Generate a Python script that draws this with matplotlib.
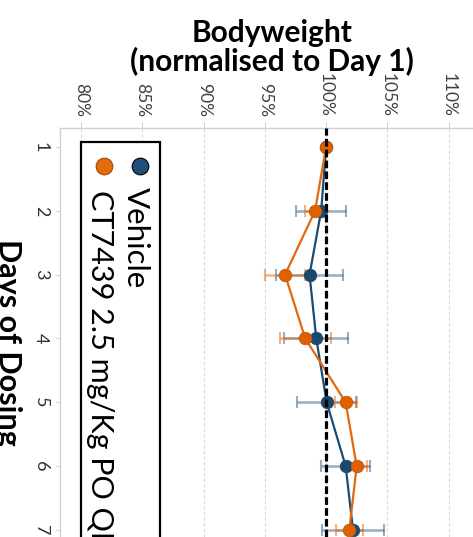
import matplotlib
matplotlib.use("Agg")
import matplotlib.pyplot as plt
from matplotlib.patches import Rectangle

plt.rcParams['font.family'] = ['Lato', 'DejaVu Sans']

days = [1, 2, 3, 4, 5, 6, 7]
vehicle = [100.0, 99.6, 98.65, 99.2, 100.05, 101.6, 102.2]
vehicle_err = [0.0, 2.05, 2.7, 2.6, 2.4, 2.0, 2.5]
ct7439 = [100.0, 99.1, 96.65, 98.3, 101.6, 102.5, 101.9]
ct7439_err = [0.0, 0.85, 1.65, 2.1, 0.9, 0.85, 1.1]
pct_ticks = [80, 85, 90, 95, 100, 105, 110]
pct_labels = [f"{v}%" for v in pct_ticks]
series_names = ["Vehicle", "CT7439 2.5 mg/Kg PO QD"]

W, H = 473, 537
fig = plt.figure(figsize=(W / 100, H / 100), dpi=100)

def fx(px):
    return px / W

def fy(py):
    return 1 - py / H

ax = fig.add_axes([fx(60), 0, 1 - fx(60), fy(128)])
ax.set_xlim(78.27, 112.0)
ax.set_ylim(7.11, 0.702)

blue = '#1c4b72'
orange = '#e3680f'

# error bars
ax.errorbar(vehicle, days, xerr=vehicle_err, fmt='none', ecolor=blue, alpha=0.45,
            elinewidth=1.8, capsize=4, capthick=1.5, zorder=2)
ax.errorbar(ct7439, days, xerr=ct7439_err, fmt='none', ecolor=orange, alpha=0.5,
            elinewidth=1.8, capsize=4, capthick=1.5, zorder=2)

ax.plot(vehicle, days, color=blue, lw=1.6, marker='o', ms=9,
        markerfacecolor='#174a70', markeredgecolor='#2a4a60', mew=0.6, zorder=3)
ax.plot(ct7439, days, color=orange, lw=1.6, marker='o', ms=9,
        markerfacecolor='#e06000', markeredgecolor='#b85a1a', mew=0.6, zorder=4)

ax.axvline(100, color='black', lw=2.3, dashes=(2.4, 1.0), zorder=5)

ax.set_xticks(pct_ticks)
ax.set_xticklabels(pct_labels, rotation=-90, fontsize=12.5, color='#404040')
ax.xaxis.tick_top()
ax.tick_params(axis='x', length=4, color='#d0d0d0', pad=4)
ax.set_yticks(days)
ax.set_yticklabels([str(d) for d in days], rotation=-90, fontsize=13, color='#303040')
ax.tick_params(axis='y', length=3, color='#d0d0d0', pad=5)
for lab in ax.get_yticklabels():
    lab.set_verticalalignment('center')
    lab.set_horizontalalignment('right')

ax.grid(axis='x', color='#d9d9d9', lw=0.8, ls=(0, (3, 2)))
ax.set_axisbelow(True)
for s in ['right', 'bottom']:
    ax.spines[s].set_visible(False)
for s in ['top', 'left']:
    ax.spines[s].set_color('#d0d0d0')
    ax.spines[s].set_linewidth(1.0)

# title
fig.text(fx(272), fy(19), "Bodyweight\n(normalised to Day 1)", ha='center', va='top',
         fontsize=21.5, fontweight='bold', linespacing=0.98)

# axis label
fig.text(fx(22), fy(342), "Days of Dosing", rotation=-90, ha='right', va='center',
         fontsize=22, fontweight='bold')

# legend drawn rotated
rect = Rectangle((fx(81), fy(600)), fx(160) - fx(81), fy(142) - fy(600),
                 transform=fig.transFigure, facecolor='white', edgecolor='black',
                 lw=1.6, zorder=10)
fig.patches.append(rect)
fig.lines.append(plt.Line2D([fx(140)], [fy(166)], marker='o', ms=12, color=blue,
                            markerfacecolor='#1f4e79', markeredgecolor='black', mew=0.8,
                            transform=fig.transFigure, zorder=11))
fig.lines.append(plt.Line2D([fx(103.5)], [fy(166)], marker='o', ms=12, color=orange,
                            markerfacecolor='#e46c0a', markeredgecolor='#a04a08', mew=0.8,
                            transform=fig.transFigure, zorder=11))
fig.text(fx(127), fy(187), series_names[0], rotation=-90, rotation_mode='anchor',
         ha='left', va='baseline', fontsize=22.5, zorder=12)
fig.text(fx(91), fy(190), series_names[1], rotation=-90, rotation_mode='anchor',
         ha='left', va='baseline', fontsize=22, zorder=12)

fig.savefig('out.png', dpi=100)
